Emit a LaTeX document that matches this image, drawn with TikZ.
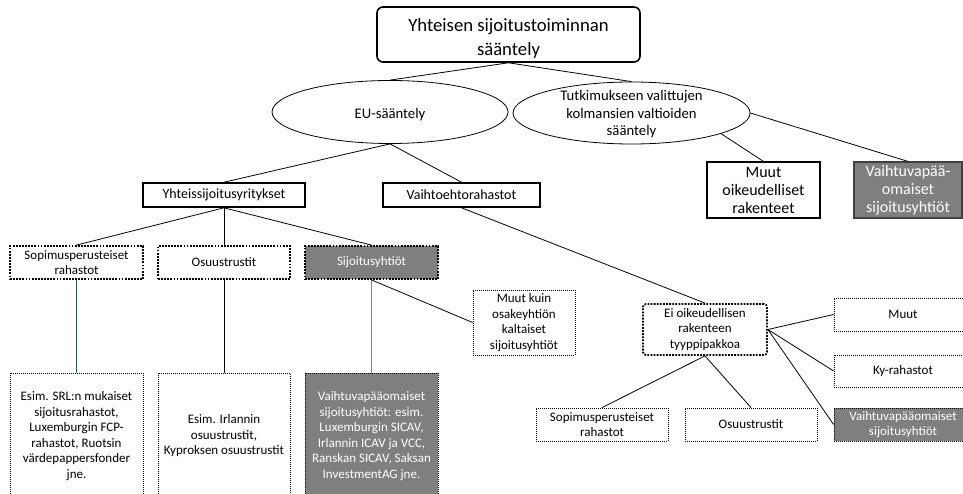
\documentclass[tikz,border=0pt]{standalone}
\usepackage{fontspec}
\setmainfont{Carlito}
\usetikzlibrary{shapes.geometric}

\definecolor{boxgray}{RGB}{127,127,127}
\definecolor{tealline}{RGB}{31,95,110}

\tikzset{
  fbig/.style={font=\fontsize{18.7}{23.5}\selectfont},
  flarge/.style={font=\fontsize{16}{18}\selectfont},
  fmid/.style={font=\fontsize{14.7}{17.5}\selectfont},
  fbox/.style={font=\fontsize{14}{16.5}\selectfont},
  fsmall/.style={font=\fontsize{13}{15.5}\selectfont},
  base/.style={inner sep=0pt, align=center},
  solidbox/.style={base, draw, line width=1.6pt, fbox},
  thinsolid/.style={base, draw, line width=1.2pt, flarge},
  oval/.style={base, ellipse, draw, line width=0.8pt, fmid},
  thickdot/.style={base, draw, line width=1.8pt, dash pattern=on 1.8pt off 1.3pt, fsmall},
  thindot/.style={base, draw, line width=0.8pt, dash pattern=on 1pt off 1pt, fsmall},
  shaded/.style={fill=boxgray, text=white},
  conn/.style={draw, line width=0.8pt},
}

\begin{document}
\begin{tikzpicture}[x=1pt, y=-1pt]
\useasboundingbox (0,0) rectangle (963,494);

% top level
\node[base, draw, line width=1.6pt, rounded corners=6pt,
      minimum width=263pt, minimum height=55pt,
      label={[base, fbig, yshift=-4pt]center:{Yhteisen sijoitustoiminnan\\sääntely}}]
      (top) at (508.5,34.5) {};

% regulation levels
\node[oval, minimum width=236pt, minimum height=63pt,
      label={[base, fmid, yshift=-3pt]center:{EU-sääntely}}] (eu) at (390,112) {};
\node[oval, minimum width=237pt, minimum height=62pt,
      label={[base, fmid, yshift=-1.5pt]center:{Tutkimukseen valittujen\\kolmansien valtioiden\\sääntely}}]
      (third) at (631.5,113) {};

% EU categories
\node[solidbox, minimum width=162pt, minimum height=24pt] (ucits) at (224,195) {Yhteissijoitusyritykset};
\node[solidbox, minimum width=157pt, minimum height=24pt] (aif) at (461.5,195) {Vaihtoehtorahastot};

% third-country structures
\node[thinsolid, minimum width=113pt, minimum height=56pt] (muutoik) at (763.5,190)
      {Muut\\oikeudelliset\\rakenteet};
\node[thinsolid, shaded, draw=black!75, minimum width=108pt, minimum height=56pt] (vaiht1) at (908,190)
      {Vaihtuvapää-\\omaiset\\sijoitusyhtiöt};

% UCITS legal forms
\node[thickdot, minimum width=133pt, minimum height=33pt] (sop1) at (76.5,262.5)
      {Sopimusperusteiset\\rahastot};
\node[thickdot, minimum width=132pt, minimum height=33pt] (osu1) at (224,262.5) {Osuustrustit};
\node[thickdot, shaded, minimum width=133pt, minimum height=33pt] (sij1) at (371.5,262.5) {Sijoitusyhtiöt};
\node[thindot, minimum width=102pt, minimum height=65pt] (muutkuin) at (524,322.5)
      {Muut kuin\\osakeyhtiön\\kaltaiset\\sijoitusyhtiöt};

% examples
\node[thindot, minimum width=133pt, minimum height=126pt] (ex1) at (76.5,436)
      {Esim. SRL:n mukaiset\\sijoitusrahastot,\\Luxemburgin FCP-\\rahastot, Ruotsin\\värdepappersfonder\\jne.};
\node[thindot, minimum width=132pt, minimum height=126pt] (ex2) at (224,436)
      {Esim. Irlannin\\osuustrustit,\\Kyproksen osuustrustit};
\node[thindot, shaded, minimum width=133pt, minimum height=126pt] (ex3) at (371.5,436)
      {Vaihtuvapääomaiset\\sijoitusyhtiöt: esim.\\Luxemburgin SICAV,\\Irlannin ICAV ja VCC,\\Ranskan SICAV, Saksan\\InvestmentAG jne.};

% AIF legal forms
\node[thickdot, rounded corners=3pt, minimum width=124pt, minimum height=51pt] (ei) at (705,329.5)
      {Ei oikeudellisen\\rakenteen\\tyyppipakkoa};
\node[thindot, minimum width=138pt, minimum height=33pt] (muut) at (903,314.5) {Muut};
\node[thindot, minimum width=138pt, minimum height=32pt] (ky) at (903,371) {Ky-rahastot};
\node[thindot, shaded, minimum width=138pt, minimum height=33pt] (vaiht2) at (903,424.5)
      {Vaihtuvapääomaiset\\sijoitusyhtiöt};
\node[thindot, minimum width=132pt, minimum height=33pt] (sop2) at (602,424.5)
      {Sopimusperusteiset\\rahastot};
\node[thindot, minimum width=132pt, minimum height=33pt] (osu2) at (751,424.5) {Osuustrustit};

% connectors
\draw[conn] (top.south) -- (eu.north);
\draw[conn] (top.south) -- (third.north);
\draw[conn] (eu.south) -- (ucits.north);
\draw[conn] (eu.south) -- (aif.north);
\draw[conn] (third.-13) -- (muutoik.north);
\draw[conn] (third.east) -- (vaiht1.north);
\draw[conn] (ucits.south) -- (sop1.north);
\draw[conn] (ucits.south) -- (osu1.north);
\draw[conn] (ucits.south) -- (sij1.north);
\draw[conn] (sij1.south) -- (muutkuin.west);
\draw[conn, draw=tealline, line width=1pt] (sop1.south) -- (ex1.north);
\draw[conn] (osu1.south) -- (ex2.north);
\draw[conn, draw=boxgray, line width=1.5pt] (sij1.south) -- (ex3.north);
\draw[conn] (aif.south) -- (ei.north);
\draw[conn] (ei.south) -- (sop2.north);
\draw[conn] (ei.south) -- (osu2.north);
\draw[conn] (ei.east) -- (muut.west);
\draw[conn] (ei.east) -- (ky.west);
\draw[conn] (ei.east) -- (vaiht2.west);
\end{tikzpicture}
\end{document}
